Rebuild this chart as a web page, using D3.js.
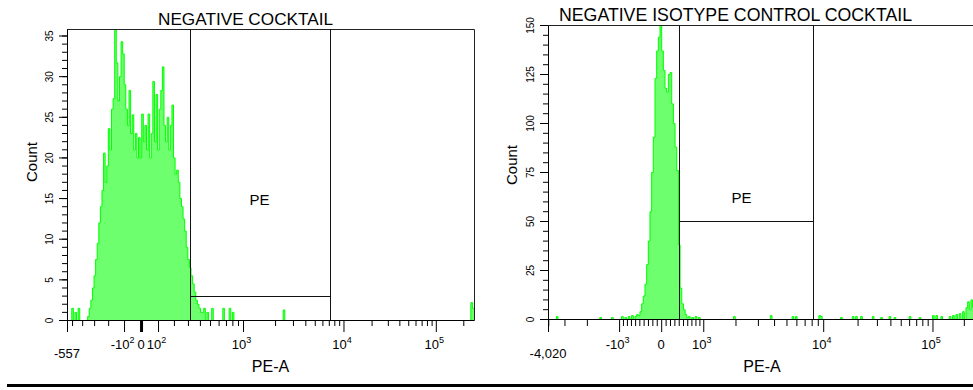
<!DOCTYPE html>
<html lang="en">
<head>
<meta charset="UTF-8">
<script src="https://d3js.org/d3.v7.min.js"></script>
<style>
    body {margin: 0; background: #fff;}
    svg {display: block;}
    text {font-family: "Liberation Sans", Arial, sans-serif; fill: #000;}
</style>
</head>
<body>
<svg id="chart" width="973" height="390"></svg>
<script>
// values
const leftTitle = "NEGATIVE  COCKTAIL";
const rightTitle = "NEGATIVE ISOTYPE CONTROL COCKTAIL";
const xName = "PE-A";
const yName = "Count";
const gateName = "PE";

const nChannels = 256;

// left histogram: counts per channel, main peak starts at channel 13
const leftPeakStart = 13;
const leftPeak = [0.5, 1.5, 2.5, 4, 5.5, 7.5, 9.5, 12, 14, 16, 20.6, 17, 19, 23.6, 21, 26, 27.3, 35.8, 31.7, 27,
    30, 34.3, 32.8, 29, 26, 24, 28.3, 23, 25.3, 21, 23, 20, 22.5, 20, 25.4, 22, 24, 21, 25.4, 20,
    23, 29.4, 22, 27.8, 21, 26, 28.3, 31.2, 24, 22, 25, 21, 24, 26.5, 20, 18, 18.5, 17, 15, 14,
    12.5, 11, 9, 7.5, 6.5, 5.5, 4.5, 3.5, 2.5, 2, 1.5, 1, 1];
// scattered events [channel, count]
const leftEvents = [[3, 1.5], [5, 1], [7, 1.5], [86, 1.5], [88, 1], [91, 1.5], [98, 1.5], [102, 1.5],
    [104, 1], [136, 1.3], [254, 2.2], [255, 1.5]];

// right histogram
const rightPeakStart = 54;
const rightPeak = [2, 4, 8, 12, 18, 28, 40, 55, 75, 93, 123, 137, 144, 150, 137, 127, 118, 116, 125, 126,
    110, 100, 88, 76, 38, 16, 8, 5, 2.5, 1];
const rightEvents = [[5, 1.5], [31, 1], [38, 1], [44, 1.5], [46, 1], [48, 1.5], [50, 2], [52, 1.5], [53, 2.5],
    [84, 1.5], [86, 1], [88, 1.5], [90, 1], [111, 1.5], [133, 2], [146, 1.5], [148, 1.5], [162, 2], [163, 1.5],
    [175, 1], [182, 1.5], [184, 1.5], [187, 1.5], [194, 1.5], [199, 1], [204, 1.5], [207, 1], [216, 1.5],
    [222, 1], [230, 2], [232, 2], [235, 1.5], [240, 1.5], [242, 2], [244, 2.5], [246, 3], [248, 4],
    [250, 6], [251, 9], [252, 5], [253, 10], [254, 6], [255, 4]];

// axes
const leftXRange = [-557, 262144];
const rightXRange = [-4020, 262144];
const leftYMax = 35.8;
const rightYMax = 150;
const leftYTicks = [0, 5, 10, 15, 20, 25, 30, 35];
const rightYTicks = [0, 25, 50, 75, 100, 125, 150];
const leftXMajor = [-557, -100, 0, 100, 1000, 10000, 100000];
const leftXLabels = ["-557", "-10^2", "0", "10^2", "10^3", "10^4", "10^5"];
const rightXMajor = [-4020, -1000, 0, 1000, 10000, 100000];
const rightXLabels = ["-4,020", "-10^3", "0", "10^3", "10^4", "10^5"];
const minorSteps = [2, 3, 4, 5, 6, 7, 8, 9];
const leftXMinor = [-500, -400, -300, -200]
    .concat(minorSteps.map(k => k * 100), minorSteps.map(k => k * 1000), minorSteps.map(k => k * 10000), [200000]);
const rightXMinor = [-4000, -3000, -2000, -900, -800, -700, -600, -500, -400, -300, -200, -100,
    100, 200, 300, 400, 500, 600, 700, 800, 900]
    .concat(minorSteps.map(k => k * 1000), minorSteps.map(k => k * 10000), [200000]);

// gates: [low, high, count]
const leftGate = [316, 7200, 2.9];
const rightGate = [406, 8200, 50];

// biexponential display transform
function biexU(v, b) {
    const t = Math.abs(v) / b.a, p2 = b.p * b.p;
    const S = u => Math.exp(u) - p2 * Math.exp(-u / b.p) + p2 - 1;
    let lo = 0, hi = 30;
    for (let k = 0; k < 60; k++) {
        const m = (lo + hi) / 2;
        if (S(m) < t) lo = m; else hi = m;
    }
    return Math.sign(v) * (lo + hi) / 2;
}

const svg = d3.select("#chart");

svg.append("rect").attr("x", 7).attr("y", 384).attr("width", 966).attr("height", 3).attr("fill", "#000");

function panel(c, id) {
    const g = svg.append("g");
    const U = v => biexU(v, c.biex);
    const xs = d3.scaleLinear().domain([U(c.xRange[0]), U(c.xRange[1])]).range([c.x0, c.x1]);
    const chX = d3.scaleLinear().domain([0, nChannels]).range([c.x0, c.x1]);
    const ys = d3.scaleLinear().domain([0, c.yMax]).range([c.yBottom, c.yTop]);

    // histogram
    const counts = new Array(nChannels).fill(0);
    c.peak.forEach((v, i) => counts[c.peakStart + i] = v);
    c.events.forEach(([ch, v]) => counts[ch] = v);
    const pts = d3.range(nChannels + 1).map(i => [i, counts[Math.min(i, nChannels - 1)]]);

    svg.append("clipPath").attr("id", id).append("rect")
        .attr("x", c.x0).attr("y", c.yTop).attr("width", c.x1 - c.x0).attr("height", c.yBottom - c.yTop + 1);
    const hg = g.append("g").attr("clip-path", `url(#${id})`).attr("transform", "translate(0,0.5)");
    hg.append("path").datum(pts)
        .attr("fill", "#6dff6d")
        .attr("d", d3.area().x(d => chX(d[0])).y0(ys(0)).y1(d => ys(d[1])).curve(d3.curveStepAfter));
    hg.append("path").datum(pts)
        .attr("fill", "none").attr("stroke", "#00ff00").attr("stroke-width", 1)
        .attr("d", d3.line().x(d => chX(d[0])).y(d => ys(d[1])).curve(d3.curveStepAfter));

    // frame
    g.append("path").attr("fill", "none").attr("stroke", "#222")
        .attr("d", `M${c.x0},${c.yTop + 0.5}H${c.x1 + 0.5}V${c.yBottom + 0.5}`);

    // gate
    const gx0 = Math.round(xs(U(c.gate[0]))) + 0.5, gx1 = Math.round(xs(U(c.gate[1]))) + 0.5;
    const gy = Math.round(ys(c.gate[2])) + 0.5;
    g.append("path").attr("fill", "none").attr("stroke", "#111")
        .attr("d", `M${gx0},${c.yTop}V${c.yBottom}M${gx1},${c.yTop}V${c.yBottom}M${gx0},${gy}H${gx1}`);
    g.append("text").attr("x", (gx0 + gx1) / 2 - c.gateLabelDx).attr("y", c.gateLabelY)
        .attr("text-anchor", "middle").style("font-size", "15px").text(gateName);

    // y axis
    g.append("g").attr("transform", `translate(${c.x0},0)`)
        .call(d3.axisLeft(ys).tickValues(d3.range(0, c.yMax + 0.01, c.yMinor)).tickSize(5).tickFormat(""))
        .call(a => a.select(".domain").remove());
    const ya = g.append("g").attr("transform", `translate(${c.x0},0)`)
        .call(d3.axisLeft(ys).tickValues(c.yTicks).tickSize(8).tickSizeOuter(0).tickFormat(d3.format("d")));
    ya.selectAll(".tick text")
        .attr("x", null).attr("dy", null).attr("text-anchor", "middle")
        .attr("transform", "translate(-14,0) rotate(-90)")
        .style("font-family", "'Liberation Sans', Arial, sans-serif").style("font-size", "10px");
    ya.selectAll("line, path").attr("stroke", "#000");

    // x axis
    g.append("g").attr("transform", `translate(0,${c.yBottom})`)
        .call(d3.axisBottom(xs).tickValues(c.xMinor.map(U)).tickSize(c.minorLen).tickFormat(""))
        .call(a => a.select(".domain").remove());
    const xa = g.append("g").attr("transform", `translate(0,${c.yBottom})`)
        .call(d3.axisBottom(xs).tickValues(c.xMajor.map(U)).tickSize(c.majorLen).tickSizeOuter(0).tickFormat(""));
    xa.selectAll("line, path").attr("stroke", "#000");
    if (c.thickZero) xa.selectAll(".tick").filter(d => d === 0).select("line").attr("stroke-width", 3);

    c.xMajor.forEach((v, i) => {
        const parts = c.xLabels[i].split("^");
        const t = g.append("text")
            .attr("x", xs(U(v)) - (parts.length > 1 ? 1.5 : 0))
            .attr("y", i === 0 ? 358 : 349)
            .attr("text-anchor", "middle").style("font-size", "13px");
        t.append("tspan").text(parts[0]);
        if (parts.length > 1) t.append("tspan").attr("dy", -6).style("font-size", "9px").text(parts[1]);
    });

    // titles
    g.append("text").attr("x", c.titleX).attr("y", c.titleY)
        .attr("textLength", c.titleLen).attr("lengthAdjust", "spacingAndGlyphs")
        .style("font-size", c.titleSize + "px").text(c.title);
    g.append("text").attr("x", (c.x0 + c.x1) / 2).attr("y", 372)
        .attr("text-anchor", "middle").style("font-size", "16px").text(xName);
    g.append("text").attr("transform", `translate(${c.countX},${c.countY}) rotate(-90)`)
        .attr("text-anchor", "middle").style("font-size", "15px").text(yName);
}

panel({
    title: leftTitle, titleX: 158, titleY: 25, titleSize: 16.5, titleLen: 175,
    x0: 67, x1: 474, yTop: 29, yBottom: 320,
    biex: {a: 57.5, p: 3}, xRange: leftXRange,
    yMax: leftYMax, yTicks: leftYTicks, yMinor: 1,
    xMajor: leftXMajor, xLabels: leftXLabels, xMinor: leftXMinor, majorLen: 12, minorLen: 6,
    peakStart: leftPeakStart, peak: leftPeak, events: leftEvents,
    gate: leftGate, gateLabelY: 205, gateLabelDx: 1,
    countX: 37, countY: 162, thickZero: true
}, "clipL");

panel({
    title: rightTitle, titleX: 559, titleY: 21, titleSize: 17.5, titleLen: 353,
    x0: 548, x1: 976, yTop: 25, yBottom: 319,
    biex: {a: 223, p: 3.52}, xRange: rightXRange,
    yMax: rightYMax, yTicks: rightYTicks, yMinor: 5,
    xMajor: rightXMajor, xLabels: rightXLabels, xMinor: rightXMinor, majorLen: 13, minorLen: 7,
    peakStart: rightPeakStart, peak: rightPeak, events: rightEvents,
    gate: rightGate, gateLabelY: 203, gateLabelDx: 5,
    countX: 517, countY: 165, thickZero: false
}, "clipR");
</script>
</body>
</html>
